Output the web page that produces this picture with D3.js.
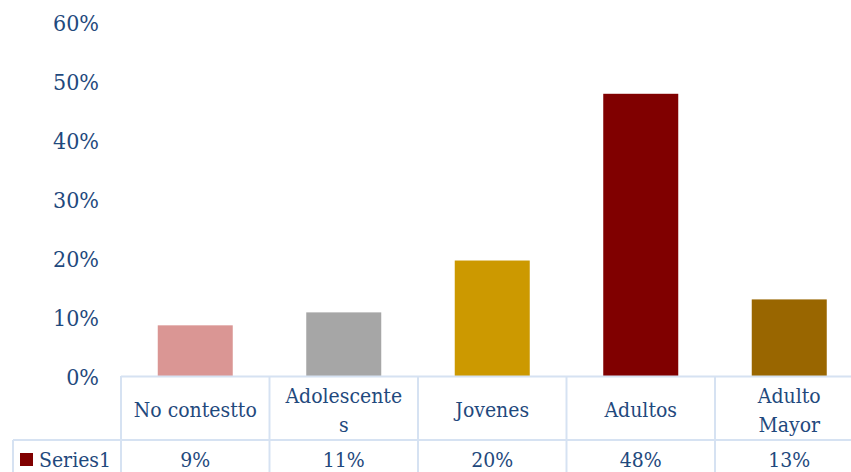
<!DOCTYPE html>
<html><head><meta charset="utf-8">
<script src="https://cdn.jsdelivr.net/npm/d3@7"></script>
<style>body{margin:0;background:#fff}svg{display:block}</style>
</head><body>
<svg id="c" width="851" height="472"></svg>
<script>
const categories = ["No contestto", "Adolescentes", "Jovenes", "Adultos", "Adulto Mayor"];
const categoryLines = [["No contestto"], ["Adolescente", "s"], ["Jovenes"], ["Adultos"], ["Adulto", "Mayor"]];
const values = [0.086, 0.108, 0.196, 0.479, 0.13];
const tableLabels = ["9%", "11%", "20%", "48%", "13%"];
const colors = ["#DA9694", "#A6A6A6", "#CC9900", "#800000", "#996600"];
const yTicks = [0, 0.1, 0.2, 0.3, 0.4, 0.5, 0.6];
const seriesName = "Series1";

const svg = d3.select("#c");
const font = "'DejaVu Serif Condensed', 'DejaVu Serif', serif";
const txt = "#1F497D";
const grid = "#D6E2F2";
const left = 121, colW = 148.5, y0 = 376, yTop = 22.5;
const x = d3.scaleBand().domain(categories).range([left, left + colW * categories.length]).paddingInner(0).paddingOuter(0);
const y = d3.scaleLinear().domain([0, 0.6]).range([y0, yTop]);

// y labels
const yAxis = d3.axisLeft(y).tickValues(yTicks).tickFormat(d3.format(".0%")).tickSize(0).tickPadding(0);
const ga = svg.append("g").attr("transform", "translate(99,0)").call(yAxis);
ga.select(".domain").remove();
ga.selectAll("text").attr("font-family", font).attr("font-size", 23).attr("fill", txt).attr("dy", "0.35em");

// bars
const bw = 75;
svg.selectAll("rect.bar").data(values).join("rect")
  .attr("x", (d, i) => x(categories[i]) + x.bandwidth() / 2 - bw / 2)
  .attr("width", bw)
  .attr("y", d => y(d))
  .attr("height", d => y0 - y(d))
  .attr("fill", (d, i) => colors[i]);

// table
const rowMid = 440, bottom = 480;
const g = svg.append("g").attr("stroke", grid).attr("stroke-width", 2).attr("fill", "none");
g.append("line").attr("x1", left).attr("x2", 851).attr("y1", y0 + 0.5).attr("y2", y0 + 0.5);
g.append("line").attr("x1", 13).attr("x2", 851).attr("y1", rowMid).attr("y2", rowMid);
g.append("line").attr("x1", 13).attr("x2", 13).attr("y1", rowMid).attr("y2", bottom);
categories.forEach((c, i) => {
  g.append("line").attr("x1", x(c)).attr("x2", x(c)).attr("y1", y0).attr("y2", bottom);
});

// category labels
const fs = 21;
categories.forEach((c, i) => {
  const lines = categoryLines[i];
  const cx = x(c) + x.bandwidth() / 2;
  const lh = 29;
  const startY = 410 - (lines.length - 1) * lh / 2;
  lines.forEach((l, j) => {
    svg.append("text").attr("x", cx).attr("y", startY + j * lh).attr("dy", "0.35em")
      .attr("text-anchor", "middle").attr("font-family", font).attr("font-size", fs).attr("fill", txt).text(l);
  });
  svg.append("text").attr("x", cx).attr("y", 460).attr("dy", "0.35em")
    .attr("text-anchor", "middle").attr("font-family", font).attr("font-size", fs).attr("fill", txt).text(tableLabels[i]);
});

// legend key
svg.append("rect").attr("x", 20).attr("y", 453).attr("width", 13).attr("height", 13).attr("fill", colors[3]);
svg.append("text").attr("x", 39).attr("y", 460).attr("dy", "0.35em").attr("font-family", font).attr("font-size", fs).attr("fill", txt).text(seriesName);
</script>
</body></html>
